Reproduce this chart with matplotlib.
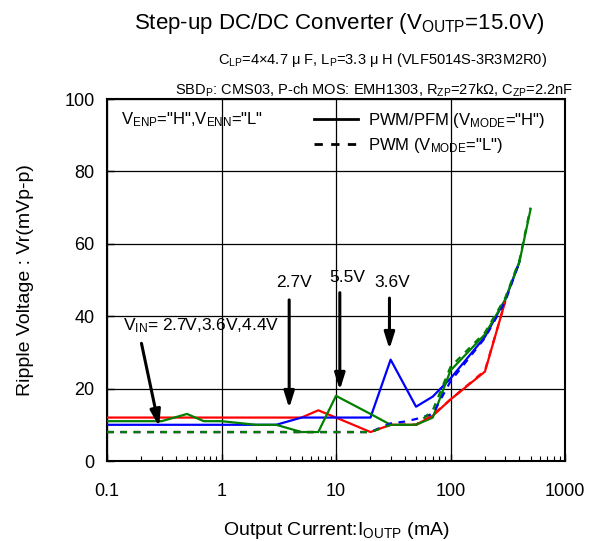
import matplotlib
matplotlib.use("Agg")
import matplotlib.pyplot as plt
from matplotlib.lines import Line2D

plt.rcParams['font.family'] = ['Liberation Sans', 'DejaVu Sans']
plt.rcParams['mathtext.fontset'] = 'custom'
plt.rcParams['mathtext.rm'] = 'Liberation Sans'
plt.rcParams['mathtext.it'] = 'Liberation Sans'
plt.rcParams['mathtext.bf'] = 'Liberation Sans:bold'

# ---- data (PWM/PFM mode, solid) ----
red_x = [0.1, 5, 7, 10, 20, 30, 50, 70, 100, 200, 300]
red_y = [12, 12, 14, 12, 8, 10, 10, 12.5, 17, 24.7, 44]
blue_x = [0.1, 3, 5, 10, 20, 30, 50, 70, 100, 200, 300, 400]
blue_y = [10, 10, 12, 12, 12, 28, 15, 17.8, 22.8, 34.3, 44.5, 55]
green_x = [0.1, 0.3, 0.5, 0.7, 1, 2, 3, 5, 7, 10, 20, 30, 50, 70, 100, 200, 300, 400, 500]
green_y = [11, 11, 13, 11, 11, 10, 10, 8, 8, 18, 13, 10, 10, 12, 25, 35, 44.5, 55, 69.5]

# ---- data (PWM mode, dashed) ----
red_d_x = [0.1, 20, 30, 50, 70, 100, 200, 300]
red_d_y = [8, 8, 10, 10, 12.7, 17, 25, 44]
blue_d_x = [0.1, 20, 30, 40, 50, 70, 100, 200, 300, 400]
blue_d_y = [8, 8, 10.4, 10.9, 11.6, 13, 22, 34, 44, 55]
green_d_x = [0.1, 20, 30, 50, 70, 100, 200, 300, 400, 500]
green_d_y = [8, 8, 10, 10, 14, 26, 35.5, 45, 55.5, 70]

xticks = [0.1, 1, 10, 100, 1000]
xticklabels = ['0.1', '1', '10', '100', '1000']
yticks = [0, 20, 40, 60, 80, 100]

RED, BLUE, GREEN = '#ff0000', '#0000ff', '#008000'

fig = plt.figure(figsize=(5.89, 5.41), dpi=100)
ax = fig.add_axes([107/589, 1-461/541, (565-107)/589, (461-99)/541])

lw = 1.6
ax.plot(red_x, red_y, color=RED, lw=lw, zorder=3)
ax.plot(blue_x, blue_y, color=BLUE, lw=lw, zorder=3)
ax.plot(green_x, green_y, color=GREEN, lw=lw, zorder=3)
ax.plot(red_d_x, red_d_y, color=RED, lw=lw, dashes=(3, 3), zorder=4)
ax.plot(blue_d_x, blue_d_y, color=BLUE, lw=lw, dashes=(3, 3), zorder=4)
ax.plot(green_d_x, green_d_y, color=GREEN, lw=lw, dashes=(3, 3), zorder=4)

ax.set_xscale('log')
ax.set_xlim(0.1, 1000)
ax.set_ylim(0, 100)
ax.set_xticks(xticks)
ax.set_xticklabels(xticklabels)
ax.set_yticks(yticks)
ax.grid(True, which='major', color='black', lw=0.9)
ax.tick_params(which='both', direction='in', labelsize=13)
ax.tick_params(which='major', length=5, width=1)
ax.tick_params(which='minor', length=3.5, width=0.8)
ax.tick_params(axis='x', pad=16)
ax.tick_params(axis='y', pad=9)
for s in ax.spines.values():
    s.set_linewidth(1.5)
    s.set_color('black')

ax.set_xlabel(r'Output Current:I$_{\mathregular{OUTP}}$ (mA)', fontsize=14, labelpad=14)
ax.set_ylabel('Ripple Voltage : Vr(mVp-p)', fontsize=14, labelpad=22)

# legend
handles = [Line2D([], [], color='black', lw=2),
           Line2D([], [], color='black', lw=2, dashes=(3, 3))]
labels = [r'PWM/PFM (V$_{\mathregular{MODE}}$="H")',
          r'PWM (V$_{\mathregular{MODE}}$="L")']
ax.legend(handles, labels, loc='upper left', bbox_to_anchor=((302-107)/458, 1.0),
          frameon=False, fontsize=12, handlelength=2.65, handletextpad=0.6,
          labelspacing=0.4, borderaxespad=0.3)

ax.text(0.1325, 94.2, r'V$_{\mathregular{ENP}}$="H",V$_{\mathregular{ENN}}$="L"',
        fontsize=12, ha='left', va='center')

# annotations
aprops = dict(arrowstyle='-|>,head_length=0.7,head_width=0.22', lw=2.2, color='black',
              shrinkA=0, shrinkB=0, mutation_scale=14)
ax.text(0.138, 37.5, r'V$_{\mathregular{IN}}$= 2.7V,3.6V,4.4V', fontsize=12.5, ha='left', va='center')
ax.annotate('', xy=(0.285, 9.5), xytext=(0.20, 32.5), arrowprops=aprops)
ax.text(4.3, 49.2, '2.7V', fontsize=12.5, ha='center', va='center')
ax.annotate('', xy=(3.9, 14.6), xytext=(3.9, 44.5), arrowprops=aprops)
ax.text(12.5, 50.6, '5.5V', fontsize=12.5, ha='center', va='center')
ax.annotate('', xy=(10.8, 19.6), xytext=(10.8, 46.5), arrowprops=aprops)
ax.text(31.0, 49.2, '3.6V', fontsize=12.5, ha='center', va='center')
ax.annotate('', xy=(29.3, 30.9), xytext=(29.3, 45.0), arrowprops=aprops)

# titles
fig.text(339/589, 1-23/541, r'Step-up DC/DC Converter (V$_{\mathregular{OUTP}}$=15.0V)',
         fontsize=16, ha='center', va='center')
fig.text(547/589, 1-60/541, r'C$_{\mathregular{LP}}$=4×4.7 μ F, L$_{\mathregular{P}}$=3.3 μ H (VLF5014S-3R3M2R0)',
         fontsize=10.5, ha='right', va='center')
fig.text(573/589, 1-90/541,
         r'SBD$_{\mathregular{P}}$: CMS03, P-ch MOS: EMH1303, R$_{\mathregular{ZP}}$=27kΩ, C$_{\mathregular{ZP}}$=2.2nF',
         fontsize=10.5, ha='right', va='center')

fig.savefig('out.png', dpi=100)
